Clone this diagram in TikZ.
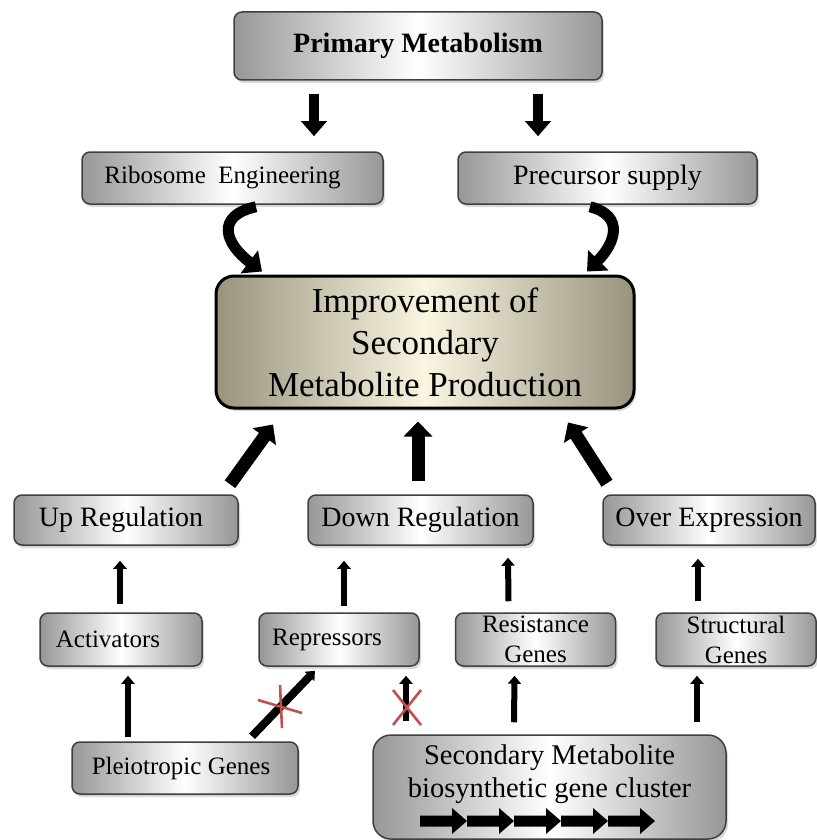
\documentclass[tikz,border=0pt]{standalone}
\usepackage{fontspec}
\setmainfont{Liberation Serif}
\usepackage{tikz}
\usetikzlibrary{arrows.meta,calc,shadows}
\definecolor{edgegray}{HTML}{979797}
\definecolor{boxline}{HTML}{3F3F3F}
\definecolor{khaki}{HTML}{97937F}
\definecolor{cream}{HTML}{F9F5E0}
\definecolor{crossred}{HTML}{C0504D}
\tikzset{
  box/.style={draw=boxline,line width=0.75pt,rounded corners=4pt,
    left color=edgegray,right color=edgegray,middle color=white,
    drop shadow={shadow xshift=1pt,shadow yshift=-1.5pt,opacity=0.3},
    inner sep=0pt,align=center,font=\fontsize{14}{17}\selectfont},
  sbox/.style={box,font=\fontsize{12.5}{15}\selectfont},
  goal/.style={box,draw=black,line width=1.5pt,rounded corners=9pt,
    left color=khaki,right color=khaki,middle color=cream,
    font=\fontsize{17.5}{21}\selectfont},
  feed/.style={-{Triangle[length=7.5pt,width=12.5pt]},line width=5pt},
  curl/.style={-{Triangle[length=8pt,width=14pt]},line width=5.5pt},
  push/.style={-{Triangle[length=7.5pt,width=14pt]},line width=6.5pt},
  lift/.style={-{Triangle[length=4pt,width=6.5pt]},line width=3pt},
  nogo/.style={draw=crossred,line width=1.3pt},
}
\begin{document}
\begin{tikzpicture}[x=0.5pt,y=-0.5pt]
  \useasboundingbox (0,0) rectangle (817,840);
  % top row
  \node[box,font=\fontsize{14}{17}\selectfont\bfseries,minimum width=184pt,minimum height=34pt]
    (prim) at (418,46) {Primary Metabolism};
  \node[sbox,minimum width=150.5pt,minimum height=26pt] (ribo) at (232.5,178)
    {Ribosome\ \ Engineering\hspace*{10pt}};
  \node[box,minimum width=149.5pt,minimum height=26pt] (prec) at (607.5,178) {Precursor supply};
  \node[goal,minimum width=209pt,minimum height=66pt] (impr) at (425,342)
    {Improvement of\\Secondary\\Metabolite Production};
  % regulation row
  \node[box,minimum width=112pt,minimum height=25pt] (upreg) at (126,520) {Up Regulation\hspace*{5pt}};
  \node[box,minimum width=112.5pt,minimum height=25pt] (downreg) at (420.5,520) {Down Regulation};
  \node[box,minimum width=106pt,minimum height=25pt] (overexp) at (709,520) {Over Expression};
  % gene row
  \node[sbox,minimum width=81pt,minimum height=26.5pt] (act) at (121,639.5) {Activators\hspace*{13pt}};
  \node[sbox,minimum width=80pt,minimum height=26.5pt] (rep) at (339,639.5) {Repressors\hspace*{12pt}};
  \node[sbox,minimum width=80pt,minimum height=26.5pt] (res) at (535.5,639.5) {Resistance\\Genes};
  \node[sbox,minimum width=80pt,minimum height=26.5pt] (str) at (736,639.5) {Structural\\Genes};
  \node[sbox,minimum width=113pt,minimum height=26pt] (pleio) at (185,768) {Pleiotropic Genes\hspace*{4pt}};
  \node[box,rounded corners=9pt,minimum width=176.5pt,minimum height=52pt] (clus) at (549.5,787) {};
  \node[font=\fontsize{14.25}{16.5}\selectfont,align=center,anchor=north,inner sep=0pt]
    (clustxt) at ($(clus.north)+(0,10.5)$) {Secondary Metabolite\\biosynthetic gene cluster};
  \foreach \gx in {420,467,514,561,608}
    \fill (\gx,815.5) -- ({\gx+32},815.5) -- ({\gx+32},808) -- ({\gx+47},821)
      -- ({\gx+32},834) -- ({\gx+32},826.5) -- (\gx,826.5) -- cycle;
  % arrows
  \draw[feed] ($(prim.south)+(-104,13)$) -- ($(ribo.north)+(81.5,-15)$);
  \draw[feed] ($(prim.south)+(120,13)$) -- ($(prec.north)+(-69.5,-15)$);
  \draw[curl] ($(ribo.south)+(23.5,2)$) .. controls +(-41,9) and +(-37,-28) .. ($(impr.north)+(-163,-3)$);
  \draw[curl] ($(prec.south)+(-17.5,2)$) .. controls +(35,9) and +(28,-28) .. ($(impr.north)+(162,-3)$);
  \draw[push] ($(upreg.north)+(104,-10)$) -- ($(impr.south)+(-152,15)$);
  \draw[push] ($(downreg.north)+(-2.5,-13)$) -- ($(impr.south)+(-7,12)$);
  \draw[push] ($(overexp.north)+(-102,-11)$) -- ($(impr.south)+(143,13)$);
  \draw[lift] ($(act.north)+(-1,-8)$) -- ($(upreg.south)+(-6,15)$);
  \draw[lift] ($(rep.north)+(5,-6)$) -- ($(downreg.south)+(-76.5,15)$);
  \draw[lift] ($(res.north)+(-27,-11)$) -- ($(downreg.south)+(87.5,12)$);
  \draw[lift] ($(str.north)+(-38,-11)$) -- ($(overexp.south)+(-11,13)$);
  \draw[lift] ($(pleio.north)+(-57,-4)$) -- ($(act.south)+(7,9)$);
  \draw[lift,line width=4pt] ($(pleio.north)+(67,-5)$) -- ($(rep.south)+(-24,4)$);
  \draw[lift] ($(clus.north)+(-143.5,-13)$) -- ($(rep.south)+(67,9)$);
  \draw[lift] ($(clus.north)+(-35.5,-12)$) -- ($(res.south)+(-21,9)$);
  \draw[lift] ($(clus.north)+(147.5,-12)$) -- ($(str.south)+(-39,9)$);
  % blocked links
  \draw[nogo] (258,700) -- (302,713) (280,685) -- (282,728);
  \draw[nogo] (393,690) -- (421,725) (421,690) -- (393,725);
\end{tikzpicture}
\end{document}
